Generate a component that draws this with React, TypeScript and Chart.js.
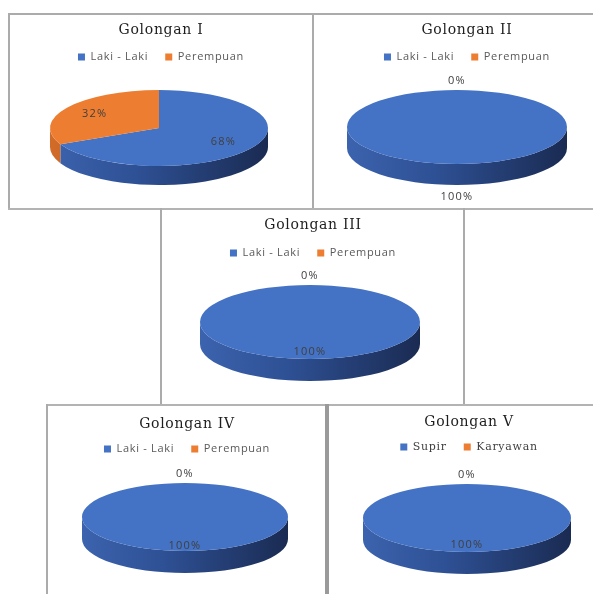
import { useEffect, useRef } from "react";
import { Chart, registerables } from "chart.js";

Chart.register(...registerables);

// ---------- data ----------
const titles = ["Golongan I", "Golongan II", "Golongan III", "Golongan IV", "Golongan V"];
const genderLabels = ["Laki - Laki", "Perempuan"];
const jobLabels = ["Supir", "Karyawan"];
const golonganI = [68, 32];
const golonganII = [100, 0];
const golonganIII = [100, 0];
const golonganIV = [100, 0];
const golonganV = [100, 0];

// ---------- styles ----------
const BLUE = "#4472C4";
const ORANGE = "#ED7D31";
const SIDE_GRADS: Record<string, [number, string][]> = {
  [BLUE]: [
    [0, "#3c63ae"],
    [0.4, "#2e5094"],
    [1, "#1a2b52"],
  ],
  [ORANGE]: [
    [0, "#d26b28"],
    [1, "#8a4216"],
  ],
};
const TITLE_SIZE = 14;
const LEG_SIZE = 11;
const LEG_PAD = 17;

type Panel = {
  title: string;
  labels: string[];
  values: number[];
  serifLegend: boolean;
  rect: { left: number; top: number; width: number; height: number };
  titleCy: number;
  legendCy: number;
  padLeft: number;
  pie: { cx: number; cy: number; rx: number; ry: number; depth: number };
  labelMode: "inside" | "outside";
  labelF: number;
};

const panels: Panel[] = [
  {
    title: titles[0], labels: genderLabels, values: golonganI, serifLegend: false,
    rect: { left: 10, top: 15, width: 302, height: 193 }, titleCy: 15, legendCy: 42, padLeft: 0,
    pie: { cx: 159, cy: 128, rx: 109, ry: 38, depth: 19 }, labelMode: "inside", labelF: 0.7,
  },
  {
    title: titles[1], labels: genderLabels, values: golonganII, serifLegend: false,
    rect: { left: 314, top: 15, width: 279, height: 193 }, titleCy: 15, legendCy: 42, padLeft: 27,
    pie: { cx: 457, cy: 127, rx: 110, ry: 37, depth: 21 }, labelMode: "outside", labelF: 0.8,
  },
  {
    title: titles[2], labels: genderLabels, values: golonganIII, serifLegend: false,
    rect: { left: 162, top: 210, width: 302, height: 194 }, titleCy: 15, legendCy: 43, padLeft: 0,
    pie: { cx: 310, cy: 322, rx: 110, ry: 37, depth: 22 }, labelMode: "inside", labelF: 0.8,
  },
  {
    title: titles[3], labels: genderLabels, values: golonganIV, serifLegend: false,
    rect: { left: 48, top: 406, width: 278, height: 188 }, titleCy: 18, legendCy: 43, padLeft: 0,
    pie: { cx: 185, cy: 517, rx: 103, ry: 34, depth: 22 }, labelMode: "inside", labelF: 0.85,
  },
  {
    title: titles[4], labels: jobLabels, values: golonganV, serifLegend: true,
    rect: { left: 329, top: 406, width: 264, height: 188 }, titleCy: 16, legendCy: 41, padLeft: 16,
    pie: { cx: 467, cy: 518, rx: 104, ry: 34, depth: 22 }, labelMode: "inside", labelF: 0.8,
  },
];

const lines = [
  { x: 8, y: 13, w: 585, h: 2, c: "#ababab" },
  { x: 8, y: 13, w: 2, h: 196, c: "#ababab" },
  { x: 312, y: 13, w: 2, h: 196, c: "#ababab" },
  { x: 8, y: 208, w: 585, h: 2, c: "#b3b3b3" },
  { x: 160, y: 208, w: 2, h: 197, c: "#ababab" },
  { x: 463, y: 208, w: 2, h: 197, c: "#ababab" },
  { x: 46, y: 404, w: 547, h: 2, c: "#b3b3b3" },
  { x: 46, y: 404, w: 2, h: 190, c: "#ababab" },
  { x: 325, y: 404, w: 4, h: 190, c: "#9a9a9a" },
];

// ---------- 3D pie plugin ----------
const pie3dPlugin = {
  id: "pie3d",
  beforeUpdate(chart: any) {
    chart.ctx.letterSpacing = "0.7px";
  },
  beforeDraw(chart: any) {
    chart.ctx.letterSpacing = "0.7px";
  },
  beforeDatasetsDraw(chart: any, _args: any, opts: any) {
    const ctx = chart.ctx as CanvasRenderingContext2D;
    const meta = chart.getDatasetMeta(0);
    const arcs = meta.data as any[];
    const { cx, cy, rx, ry, depth } = opts;
    const colors = chart.data.datasets[0].backgroundColor as string[];
    ctx.save();
    // side walls (front half only)
    arcs.forEach((arc, i) => {
      const s = arc.startAngle as number;
      const e = arc.endAngle as number;
      if (e - s <= 0) return;
      for (let k = -1; k <= 2; k++) {
        const lo = Math.max(s, 2 * Math.PI * k);
        const hi = Math.min(e, 2 * Math.PI * k + Math.PI);
        if (hi <= lo) continue;
        const g = ctx.createLinearGradient(cx - rx, 0, cx + rx, 0);
        (SIDE_GRADS[colors[i]] || [[0, colors[i]], [1, colors[i]]]).forEach(([o, c]) => g.addColorStop(o, c));
        ctx.beginPath();
        ctx.ellipse(cx, cy, rx, ry, 0, lo, hi, false);
        ctx.ellipse(cx, cy + depth, rx, ry, 0, hi, lo, true);
        ctx.closePath();
        ctx.fillStyle = g;
        ctx.fill();
      }
    });
    // map library circle to tilted ellipse
    const a0 = arcs[0];
    const r = a0.outerRadius as number;
    ctx.translate(cx, cy);
    ctx.scale(rx / r, ry / r);
    ctx.translate(-a0.x, -a0.y);
  },
  afterDatasetsDraw(chart: any, _args: any, opts: any) {
    const ctx = chart.ctx as CanvasRenderingContext2D;
    ctx.restore();
    const meta = chart.getDatasetMeta(0);
    const arcs = meta.data as any[];
    const values = chart.data.datasets[0].data as number[];
    const total = values.reduce((a, b) => a + b, 0);
    const { cx, cy, rx, ry, depth, labelMode, labelF } = opts;
    ctx.save();
    ctx.letterSpacing = "1.2px";
    ctx.font = "11px 'Open Sans'";
    ctx.fillStyle = "#404040";
    ctx.textAlign = "center";
    ctx.textBaseline = "middle";
    arcs.forEach((arc, i) => {
      const v = values[i];
      const txt = Math.round((v / total) * 100) + "%";
      const mid = ((arc.startAngle as number) + (arc.endAngle as number)) / 2;
      let x: number, y: number;
      if (v === 0) {
        x = cx + Math.cos(mid) * (rx + 9);
        y = cy + Math.sin(mid) * (ry + 9);
      } else if (labelMode === "outside") {
        x = cx + Math.cos(mid) * (rx + 10);
        y = cy + Math.sin(mid) * (ry + 12) + (Math.sin(mid) > 0 ? depth : 0);
      } else {
        x = cx + Math.cos(mid) * rx * labelF;
        y = cy + Math.sin(mid) * ry * labelF;
      }
      ctx.fillText(txt, x, y);
    });
    ctx.restore();
  },
};

function PieBox({ p }: { p: Panel }) {
  const ref = useRef<HTMLCanvasElement | null>(null);
  useEffect(() => {
    if (!ref.current) return;
    const titleLH = TITLE_SIZE * 1.2;
    const padTop = p.titleCy - titleLH / 2;
    const legendTop = p.legendCy - LEG_SIZE / 2 - LEG_PAD;
    const padBottom = legendTop - (padTop + titleLH);
    const legendFont = p.serifLegend
      ? { family: "'DejaVu Serif'", size: LEG_SIZE }
      : { family: "'Open Sans'", size: LEG_SIZE };
    const chart = new Chart(ref.current, {
      type: "pie",
      data: {
        labels: p.labels,
        datasets: [
          {
            data: p.values,
            backgroundColor: [BLUE, ORANGE],
            borderWidth: 0,
            clip: false as any,
          },
        ],
      },
      options: {
        animation: false,
        responsive: false,
        events: [],
        layout: { padding: { left: p.padLeft, right: 0, top: 0, bottom: 0 } },
        plugins: {
          title: {
            display: true,
            text: p.title,
            color: "#1e1e1e",
            font: { family: "'DejaVu Serif'", size: TITLE_SIZE, weight: "normal", lineHeight: 1.2 },
            padding: { top: padTop, bottom: padBottom },
          },
          legend: {
            display: true,
            position: "top",
            labels: {
              boxWidth: 7,
              boxHeight: 7,
              padding: LEG_PAD,
              color: p.serifLegend ? "#404040" : "#595959",
              font: legendFont as any,
            },
          },
          tooltip: { enabled: false },
          pie3d: {
            cx: p.pie.cx - p.rect.left,
            cy: p.pie.cy - p.rect.top,
            rx: p.pie.rx,
            ry: p.pie.ry,
            depth: p.pie.depth,
            labelMode: p.labelMode,
            labelF: p.labelF,
          },
        } as any,
      },
      plugins: [pie3dPlugin],
    });
    return () => chart.destroy();
  }, [p]);
  return (
    <canvas
      ref={ref}
      width={p.rect.width}
      height={p.rect.height}
      style={{
        position: "absolute",
        left: p.rect.left,
        top: p.rect.top,
        width: p.rect.width,
        height: p.rect.height,
      }}
    />
  );
}

export default function App() {
  return (
    <div style={{ position: "absolute", left: 0, top: 0, width: 593, height: 594, background: "#fff", overflow: "hidden" }}>
      {lines.map((l, i) => (
        <div key={i} style={{ position: "absolute", left: l.x, top: l.y, width: l.w, height: l.h, background: l.c }} />
      ))}
      {panels.map((p, i) => (
        <PieBox key={i} p={p} />
      ))}
    </div>
  );
}
